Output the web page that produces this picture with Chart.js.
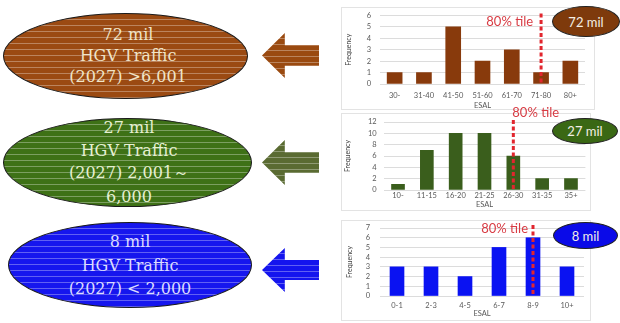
<!DOCTYPE html>
<html>
<head>
<meta charset="utf-8">
<script src="https://cdn.jsdelivr.net/npm/chart.js@4"></script>
<style>
  html, body { margin: 0; padding: 0; background: #ffffff; }
  body { position: relative; width: 620px; height: 323px; overflow: hidden; font-family: Lato, "Liberation Sans", sans-serif; }
  .oval { position: absolute; border-radius: 50%; border: 1px solid #1a1a1a; box-sizing: border-box; }
  .stripes::after {
    content: ""; position: absolute; inset: 0; border-radius: inherit; pointer-events: none;
    background: repeating-linear-gradient(to bottom, rgba(255,255,255,0) 0 5px, rgba(255,255,255,0.32) 5px 6px);
  }
  .line { position: absolute; width: 260px; text-align: center; white-space: nowrap;
    font-family: "DejaVu Serif", "Liberation Serif", serif; font-size: 16px; line-height: 22px; }
  .arrow { position: absolute; width: 57px; height: 45px;
    clip-path: polygon(0 50%, 40% 0, 40% 27%, 100% 27%, 100% 73%, 40% 73%, 40% 100%); }
  .panel { position: absolute; background: #fff; border: 1px solid #e3e3e3; box-sizing: border-box; }
  canvas.c { position: absolute; }
  .tag { position: absolute; border-radius: 50%; display: flex; align-items: center; justify-content: center;
    color: #f4efe6; font-family: Lato, sans-serif; font-size: 13px; box-sizing: border-box; border: 1px solid #222; }
</style>
</head>
<body>

<div class="oval stripes" style="left:3px;top:13px;width:245px;height:86px;background:#9b4a12;"></div>
<div class="oval stripes" style="left:3px;top:118px;width:249px;height:89px;background:#3e7116;"></div>
<div class="oval stripes" style="left:8px;top:222px;width:244px;height:86px;background:#1616ee;"></div>

<div class="line" style="left:-2px;top:24px;color:#f0e4c8;">72 mil</div>
<div class="line" style="left:-2px;top:45px;color:#f0e4c8;">HGV Traffic</div>
<div class="line" style="left:-2px;top:66px;color:#f0e4c8;">(2027) &gt;6,001</div>

<div class="line" style="left:-1px;top:117px;color:#e6f0d2;">27 mil</div>
<div class="line" style="left:-1px;top:140px;color:#e6f0d2;">HGV Traffic</div>
<div class="line" style="left:-1px;top:162px;color:#e6f0d2;">(2027) 2,001～</div>
<div class="line" style="left:-1px;top:186px;color:#e6f0d2;">6,000</div>

<div class="line" style="left:0px;top:231px;color:#dcdcff;">8 mil</div>
<div class="line" style="left:0px;top:255px;color:#dcdcff;">HGV Traffic</div>
<div class="line" style="left:0px;top:278px;color:#dcdcff;">(2027) &lt; 2,000</div>

<div class="arrow stripes" style="left:262px;top:33px;background:#9a4a10;"></div>
<div class="arrow stripes" style="left:262px;top:140px;background:#5a6b32;"></div>
<div class="arrow stripes" style="left:262px;top:248px;height:44px;background:#1414ee;"></div>

<div class="panel" style="left:341px;top:7px;width:254px;height:103px;"></div>
<div class="panel" style="left:341px;top:113px;width:250px;height:98px;"></div>
<div class="panel" style="left:341px;top:220px;width:250px;height:101px;"></div>

<canvas class="c" id="c72" width="251" height="108" style="left:341px;top:2px;"></canvas>
<canvas class="c" id="c27" width="251" height="107" style="left:341px;top:104px;"></canvas>
<canvas class="c" id="c8" width="251" height="108" style="left:341px;top:212px;"></canvas>

<div class="tag" style="left:552px;top:6px;width:68px;height:31px;background:#7e3a0c;">72 mil</div>
<div class="tag" style="left:552px;top:118px;width:66px;height:26px;background:#3a6814;">27 mil</div>
<div class="tag" style="left:553px;top:222px;width:65px;height:27px;background:#0a0ae8;">8 mil</div>

<script>
// ESAL class histograms for the three traffic bands
const esal72 = ['30-', '31-40', '41-50', '51-60', '61-70', '71-80', '80+'];
const freq72 = [1, 1, 5, 2, 3, 1, 2];
const tile72 = '71-80';

const esal27 = ['10-', '11-15', '16-20', '21-25', '26-30', '31-35', '35+'];
const freq27 = [1, 7, 10, 10, 6, 2, 2];
const tile27 = '26-30';

const esal8 = ['0-1', '2-3', '4-5', '6-7', '8-9', '10+'];
const freq8 = [3, 3, 2, 5, 6, 3];
const tile8 = '8-9';

const tickFont = { family: 'Lato', size: 7.5 };
const grey = '#595959';

// dashed 80th-percentile marker with its caption
const tileLine = {
  id: 'tileLine',
  afterDatasetsDraw(chart, args, o) {
    const x = chart.scales.x.getPixelForValue(chart.data.labels.indexOf(o.label));
    const { top, bottom } = chart.chartArea;
    const ctx = chart.ctx;
    ctx.save();
    ctx.strokeStyle = '#e1262e';
    ctx.lineWidth = 3;
    ctx.setLineDash([4, 2.5]);
    ctx.beginPath();
    ctx.moveTo(x, top - o.rise);
    ctx.lineTo(x, bottom);
    ctx.stroke();
    ctx.setLineDash([]);
    ctx.font = '13px Lato';
    ctx.fillStyle = '#d83c44';
    ctx.textAlign = o.align;
    ctx.textBaseline = 'middle';
    ctx.fillText('80% tile', x + o.dx, top + o.dy);
    ctx.restore();
  }
};

function histogram(id, labels, values, color, cfg) {
  new Chart(document.getElementById(id), {
    type: 'bar',
    data: { labels, datasets: [{ data: values, backgroundColor: color, barThickness: cfg.bar }] },
    plugins: [tileLine],
    options: {
      responsive: false, maintainAspectRatio: false, animation: false,
      layout: { padding: { left: 0, right: cfg.padR, top: cfg.padT, bottom: 0 } },
      plugins: { legend: { display: false }, tooltip: { enabled: false }, tileLine: cfg.tile },
      scales: {
        x: {
          grid: { display: false, drawTicks: false }, border: { display: false },
          ticks: { font: tickFont, color: grey, padding: cfg.xPad, maxRotation: 0, autoSkip: false },
          title: { display: true, text: 'ESAL', font: tickFont, color: grey, padding: { top: 0, bottom: cfg.titleB } },
          afterFit(s) { s.height = cfg.xH; }
        },
        y: {
          min: 0, max: cfg.max,
          grid: { color: '#dcdcdc', drawTicks: false }, border: { display: false },
          ticks: { stepSize: cfg.step, autoSkip: false, font: tickFont, color: grey, padding: cfg.yPad },
          title: { display: true, text: 'Frequency', font: { family: 'Lato', size: 7 }, color: '#404040', padding: { top: cfg.titleL, bottom: 0 } },
          afterFit(s) { s.width = cfg.yW; }
        }
      }
    }
  });
}

histogram('c72', esal72, freq72, '#883a0c', {
  bar: 15, padR: 7, padT: 13, xH: 26, yW: 39, max: 6, step: 1, xPad: 7, yPad: 9, titleB: 0, titleL: 4,
  tile: { label: tile72, rise: 2, align: 'right', dx: -8, dy: 6 }
});
histogram('c27', esal27, freq27, '#3a5e1c', {
  bar: 13, padR: 6.6, padT: 18, xH: 21, yW: 42.6, max: 12, step: 2, xPad: 1, yPad: 7, titleB: 2, titleL: 3,
  tile: { label: tile27, rise: 2, align: 'left', dx: -1, dy: -9 }
});
histogram('c8', esal8, freq8, '#0a12f2', {
  bar: 14, padR: 8, padT: 16, xH: 24, yW: 39, max: 7, step: 1, xPad: 5, yPad: 10, titleB: 2, titleL: 5,
  tile: { label: tile8, rise: 3, align: 'right', dx: -5, dy: 1 }
});
</script>
</body>
</html>
